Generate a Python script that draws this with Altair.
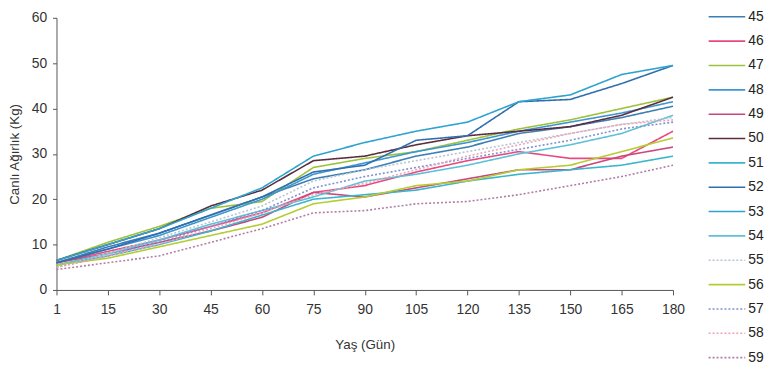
import altair as alt
import pandas as pd

days = [1, 15, 30, 45, 60, 75, 90, 105, 120, 135, 150, 165, 180]

s45 = [6.0, 9.5, 12.5, 16.5, 20.5, 24.5, 26.5, 29.5, 31.5, 34.5, 36.0, 38.0, 40.5]
s46 = [6.0, 8.5, 11.0, 14.0, 17.0, 21.5, 23.0, 26.0, 28.5, 30.5, 29.0, 29.0, 35.0]
s47 = [6.5, 10.5, 14.0, 18.0, 19.5, 27.0, 29.0, 30.5, 33.0, 35.5, 37.5, 40.0, 42.5]
s48 = [6.0, 9.0, 12.0, 16.0, 20.0, 25.5, 28.0, 30.5, 32.5, 35.0, 37.0, 39.0, 41.5]
s49 = [6.0, 8.0, 10.5, 13.0, 16.0, 21.5, 20.5, 22.5, 24.5, 26.5, 26.5, 29.5, 31.5]
s50 = [6.5, 10.0, 13.5, 18.5, 22.0, 28.5, 29.5, 32.0, 34.0, 35.0, 36.0, 38.5, 42.5]
s51 = [5.5, 7.5, 10.0, 13.0, 16.5, 20.0, 21.0, 22.0, 24.0, 25.5, 26.5, 27.5, 29.5]
s52 = [6.0, 9.0, 12.5, 16.5, 20.5, 26.0, 27.5, 33.0, 34.0, 41.5, 42.0, 45.5, 49.5]
s53 = [6.5, 10.0, 13.5, 18.0, 22.5, 29.5, 32.5, 35.0, 37.0, 41.5, 43.0, 47.5, 49.5]
s54 = [5.5, 8.0, 11.0, 14.5, 17.5, 20.5, 24.0, 25.5, 27.5, 30.0, 32.0, 34.5, 38.5]
s55 = [5.0, 8.0, 11.5, 15.0, 18.5, 24.0, 26.5, 28.5, 30.5, 32.5, 34.5, 36.5, 38.0]
s56 = [5.5, 7.0, 9.5, 12.0, 14.5, 19.0, 20.5, 23.0, 24.0, 26.5, 27.5, 30.5, 33.5]
s57 = [5.0, 7.5, 10.5, 14.0, 17.5, 22.5, 25.0, 27.0, 29.0, 31.0, 33.0, 35.5, 37.0]
s58 = [5.0, 7.5, 10.0, 13.5, 17.0, 21.0, 23.5, 26.5, 29.5, 32.0, 34.5, 36.5, 37.5]
s59 = [4.5, 6.0, 7.5, 10.5, 13.5, 17.0, 17.5, 19.0, 19.5, 21.0, 23.0, 25.0, 27.5]

names = ["45", "46", "47", "48", "49", "50", "51", "52", "53", "54", "55", "56", "57", "58", "59"]
series = [s45, s46, s47, s48, s49, s50, s51, s52, s53, s54, s55, s56, s57, s58, s59]
colors = ["#3d7fb5", "#e84a7f", "#9cc23c", "#3c97d0", "#c8487e", "#5c2d3e", "#3bb5cc",
          "#2f6fae", "#2fa3cf", "#5ec0d8", "#b8c4d2", "#b5cc32", "#7f93cc", "#eda3b5", "#b07ea3"]
dotted = ["55", "57", "58", "59"]
dashes = [[2, 2] if n in dotted else [1, 0] for n in names]
widths = [1.1 if n in dotted else 1.6 for n in names]

rows = []
for n, vals in zip(names, series):
    for d, v in zip(days, vals):
        rows.append({"Yaş": d, "Ağırlık": v, "Seri": n})
df = pd.DataFrame(rows)

FONT = "Liberation Sans"

legend = alt.Legend(
    title=None, orient="none", legendX=658, legendY=-12,
    symbolType="stroke", symbolSize=1369,
    clipHeight=22, rowPadding=2.6, labelOffset=2,
    labelFontSize=14, labelFont=FONT, labelColor="#222",
    padding=0,
)

chart = alt.Chart(df).mark_line().encode(
    x=alt.X("Yaş:O", scale=alt.Scale(type="point", domain=days, padding=0),
            axis=alt.Axis(title="Yaş (Gün)", labelAngle=0, tickSize=5, labelPadding=8,
                          titlePadding=21)),
    y=alt.Y("Ağırlık:Q", scale=alt.Scale(domain=[0, 60]),
            axis=alt.Axis(title="Canlı Ağırlık (Kg)", values=[0, 10, 20, 30, 40, 50, 60],
                          tickSize=4, labelPadding=6, titlePadding=10, grid=False)),
    color=alt.Color("Seri:N", scale=alt.Scale(domain=names, range=colors), legend=legend),
    strokeDash=alt.StrokeDash("Seri:N", scale=alt.Scale(domain=names, range=dashes), legend=legend),
    strokeWidth=alt.StrokeWidth("Seri:N", scale=alt.Scale(domain=names, range=widths), legend=legend),
    detail="Seri:N",
).properties(
    width=623, height=275,
    autosize=alt.AutoSizeParams(type="none"),
    padding={"left": 49, "top": 8, "right": 96, "bottom": 80},
).configure_view(stroke=None).configure_axis(
    labelFont=FONT, titleFont=FONT, labelFontSize=14, titleFontSize=13.5,
    titleFontWeight="normal", labelColor="#333", titleColor="#333",
    domainColor="#555", tickColor="#555", grid=False,
)

chart.save("out.html", embed_options={"renderer": "svg", "actions": False})
